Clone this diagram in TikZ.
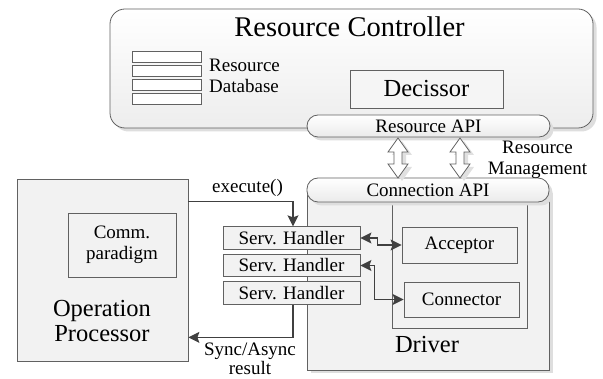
\documentclass[tikz,border=0pt]{standalone}
\usepackage{fontspec}
\setmainfont{Liberation Serif}
\usetikzlibrary{shadows,arrows.meta}
\newcommand\fsm{\rmfamily\fontsize{19}{21}\selectfont}
\newcommand\fbig{\rmfamily\fontsize{24.5}{26}\selectfont}
\newcommand\ftitle{\rmfamily\fontsize{28.5}{30}\selectfont}
\definecolor{edge}{gray}{0.38}
\definecolor{arr}{gray}{0.25}
\tikzset{
  box/.style={draw=edge, line width=0.8pt, fill=black!5, inner sep=0pt, font=\fsm},
  shad/.style={drop shadow={shadow xshift=3.5pt, shadow yshift=-3.5pt, fill=black!13, opacity=1}},
  pill/.style={box, rounded corners=11pt, top color=white, bottom color=black!8},
  stripe/.style={draw=edge, line width=0.8pt, fill=white, inner sep=0pt, minimum width=69pt, minimum height=11pt},
  conn/.style={draw=arr, line width=1.2pt, -{Stealth[length=11pt,width=11pt,inset=2pt]}},
  conn2/.style={draw=arr, line width=1.2pt, {Stealth[length=11pt,width=11pt,inset=2pt]}-{Stealth[length=11pt,width=11pt,inset=2pt]}},
  dbl/.style={draw=edge, line width=0.8pt, fill=white, drop shadow={shadow xshift=4pt, shadow yshift=-3pt, fill=black!12, opacity=1}},
  lbl/.style={inner sep=0pt, align=center, font=\fsm},
}
\begin{document}
\begin{tikzpicture}[x=1pt,y=-1pt]
\useasboundingbox (0,0) rectangle (603,379);
% Resource Controller
\node[box, shad, rounded corners=15pt, top color=white, bottom color=black!7, minimum width=483pt, minimum height=119pt] (rc) at (351.5,68.5) {};
\node[anchor=base, inner sep=0pt, font=\ftitle] (rct) at (349.5,37) {Resource Controller};
\node[stripe, anchor=north west] (db1) at (132,51) {};
\node[stripe, anchor=north west] (db2) at (132,65) {};
\node[stripe, anchor=north west] (db3) at (132,79) {};
\node[stripe, anchor=north west] (db4) at (132,93) {};
\node[lbl, anchor=base west, align=left] (dbl) at (209,93) {Resource\\Database};
\node[box, fill=black!4, minimum width=153pt, minimum height=38pt, font=\fbig] (dec) at (426.5,89) {Decissor};
% Driver
\node[box, shad, minimum width=242pt, minimum height=180pt] (drv) at (428,280) {};
\node[anchor=base, inner sep=0pt, font=\fbig] (drvt) at (427,353) {Driver};
\node[box, minimum width=135pt, minimum height=126pt] (inner) at (459.5,265) {};
\node[box, minimum width=115pt, minimum height=36pt] (acc) at (459.5,245) {Acceptor};
\node[box, minimum width=115pt, minimum height=35pt] (con) at (461.5,299.5) {Connector};
% APIs
\node[pill, shad, minimum width=243pt, minimum height=22pt] (rapi) at (428.5,126) {Resource API};
\node[pill, shad, minimum width=242pt, minimum height=24pt] (capi) at (428,190) {Connection API};
% double arrows
\foreach \cx/\nm in {398/da1,460/da2}{
  \path[dbl] (\cx,138) -- (\cx+10,152) -- (\cx+4,152) -- (\cx+4,164) -- (\cx+10,164) -- (\cx,178) -- (\cx-10,164) -- (\cx-4,164) -- (\cx-4,152) -- (\cx-10,152) -- cycle;
  \coordinate (\nm) at (\cx,158);
}
\node[lbl, anchor=base] (rm) at (537.5,175) {Resource\\Management};
% Operation Processor
\node[box, minimum width=171pt, minimum height=182pt] (op) at (102.5,270) {};
\node[box, minimum width=108pt, minimum height=64pt, align=center] (cp) at (122,245) {Comm.\\paradigm};
\node[anchor=base, inner sep=0pt, align=center, font=\fbig] (opt) at (102,342) {Operation\\[-1pt]Processor};
% Serv handlers
\node[box, minimum width=137pt, minimum height=22.5pt] (h1) at (291.5,238) {Serv. Handler};
\node[box, minimum width=137pt, minimum height=22.5pt] (h2) at (291.5,265.5) {Serv. Handler};
\node[box, minimum width=137pt, minimum height=22.5pt] (h3) at (291.5,293) {Serv. Handler};
% connectors
\draw[conn] ([yshift=-23pt]op.north east) -| ([xshift=1.5pt]h1.north);
\node[lbl, anchor=base] (ex) at (247.5,193) {execute()};
\draw[conn] ([xshift=1.5pt]h3.south) |- ([yshift=24pt]op.south east);
\node[lbl, anchor=base] (sr) at (250,375) {Sync/Async\\[-2pt]result};
\draw[conn2] (h1.east) -- ++(17,0) |- (acc.west);
\draw[conn2] (h2.east) -- ++(14,0) |- (con.west);
\end{tikzpicture}
\end{document}
